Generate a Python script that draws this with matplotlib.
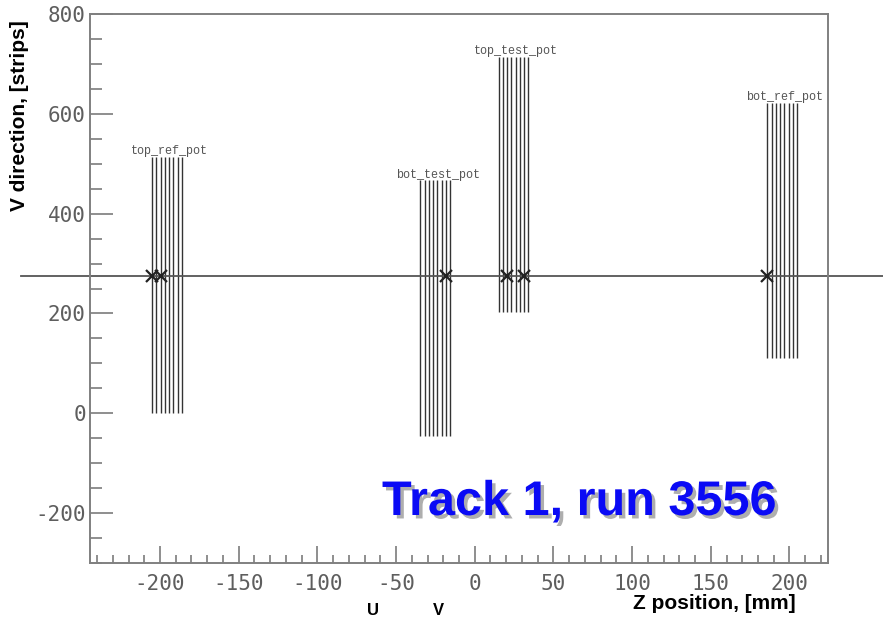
import matplotlib
matplotlib.use("Agg")
import matplotlib.pyplot as plt
from matplotlib.ticker import MultipleLocator
from matplotlib.transforms import blended_transform_factory
import matplotlib.patheffects as pe

plt.rcParams["axes.unicode_minus"] = False

# Roman pot detector planes: Z position [mm] of each V plane
pot_names = ["top_ref_pot", "bot_test_pot", "top_test_pot", "bot_ref_pot"]
pot_planes_z = [
    [-205.0, -202.3, -199.6, -196.9, -194.2, -191.5, -188.8, -186.1],
    [-34.5, -31.8, -29.1, -26.4, -23.7, -21.0, -18.3, -15.6],
    [15.2, 17.9, 20.6, 23.3, 26.0, 28.7, 31.4, 34.1],
    [186.0, 188.7, 191.4, 194.1, 196.8, 199.5, 202.2, 204.9],
]
# Strip coverage of each pot along V [strips]
pot_v_low = [0, -45, 202, 110]
pot_v_high = [514, 467, 714, 622]

# Reconstructed hits on the track
hit_z = [-205.0, -199.6, -18.3, 20.6, 31.4, 186.0]
track_v = 276
hit_v = [track_v] * len(hit_z)

x_ticks = [-200, -150, -100, -50, 0, 50, 100, 150, 200]
x_tick_labels = ["-200", "-150", "-100", "-50", "0", "50", "100", "150", "200"]
y_ticks = [-200, 0, 200, 400, 600, 800]
y_tick_labels = ["-200", "0", "200", "400", "600", "800"]

W, H = 883, 618
fig = plt.figure(figsize=(W / 100, H / 100), dpi=100)
fig.patch.set_facecolor("white")
ax = fig.add_axes([90 / W, 1 - 563 / H, 738 / W, 549 / H])

ax.set_xlim(-244.5, 224.5)
ax.set_ylim(-300, 800)

# detector planes
for zs, lo, hi, name in zip(pot_planes_z, pot_v_low, pot_v_high, pot_names):
    for z in zs:
        ax.plot([z, z], [lo, hi], color="#333333", lw=1.0, solid_capstyle="butt")
    zc = 0.5 * (zs[0] + zs[-1])
    ax.text(zc + 1.5, hi + 5, name, ha="center", va="baseline",
            family="Liberation Mono", fontsize=8.5, color="#555555")

# fitted track, drawn across the whole frame
trans = blended_transform_factory(ax.transAxes, ax.transData)
ax.plot([-0.094, 1.11], [track_v, track_v], transform=trans, clip_on=False,
        color="#555555", lw=1.3)

# hits
ax.plot(hit_z, hit_v, linestyle="none", marker="x", markersize=9,
        markeredgewidth=1.6, color="#222222", zorder=5)

# axes styling
for sp in ax.spines.values():
    sp.set_color("#808080")
    sp.set_linewidth(1.4)

ax.set_xticks(x_ticks)
ax.set_xticklabels(x_tick_labels)
ax.set_yticks(y_ticks)
ax.set_yticklabels(y_tick_labels)
ax.xaxis.set_minor_locator(MultipleLocator(10))
ax.yaxis.set_minor_locator(MultipleLocator(50))
ax.tick_params(axis="x", which="major", direction="in", length=12, width=1.1,
               color="#707070", pad=8)
ax.tick_params(axis="x", which="minor", direction="in", length=6, width=1.1,
               color="#707070")
ax.tick_params(axis="y", which="major", direction="in", length=16.5, width=1.1,
               color="#707070", pad=3)
ax.tick_params(axis="y", which="minor", direction="in", length=8.5, width=1.1,
               color="#707070")
for lab in ax.get_xticklabels() + ax.get_yticklabels():
    lab.set_family("DejaVu Sans Mono")
    lab.set_fontsize(15)
    lab.set_color("#5e5e5e")

# axis titles
fig.text(20 / W, 1 - 116 / H, "V direction, [strips]", rotation=90,
         ha="center", va="center", family="Liberation Sans", weight="bold",
         fontsize=15, color="black")
fig.text(714 / W, 1 - 609 / H, "Z position, [mm]", ha="center", va="baseline",
         family="Liberation Sans", weight="bold", fontsize=15, color="black")

# projection label at the bottom edge
fig.text(367 / W, 1 - 615 / H, "U", ha="left", va="baseline",
         family="Liberation Sans", weight="bold", fontsize=12, color="black")
fig.text(433 / W, 1 - 615 / H, "V", ha="left", va="baseline",
         family="Liberation Sans", weight="bold", fontsize=12, color="black")

# run title with drop shadow
fig.text(579 / W, 1 - 515 / H, "Track 1, run 3556", ha="center", va="baseline",
         family="Liberation Sans", weight="bold", fontsize=35, color="#0a0af5",
         path_effects=[pe.withSimplePatchShadow(offset=(2.5, -2.5),
                                                shadow_rgbFace="#9a9a9a",
                                                alpha=0.8)])

fig.savefig("out.png", dpi=100, facecolor="white")
